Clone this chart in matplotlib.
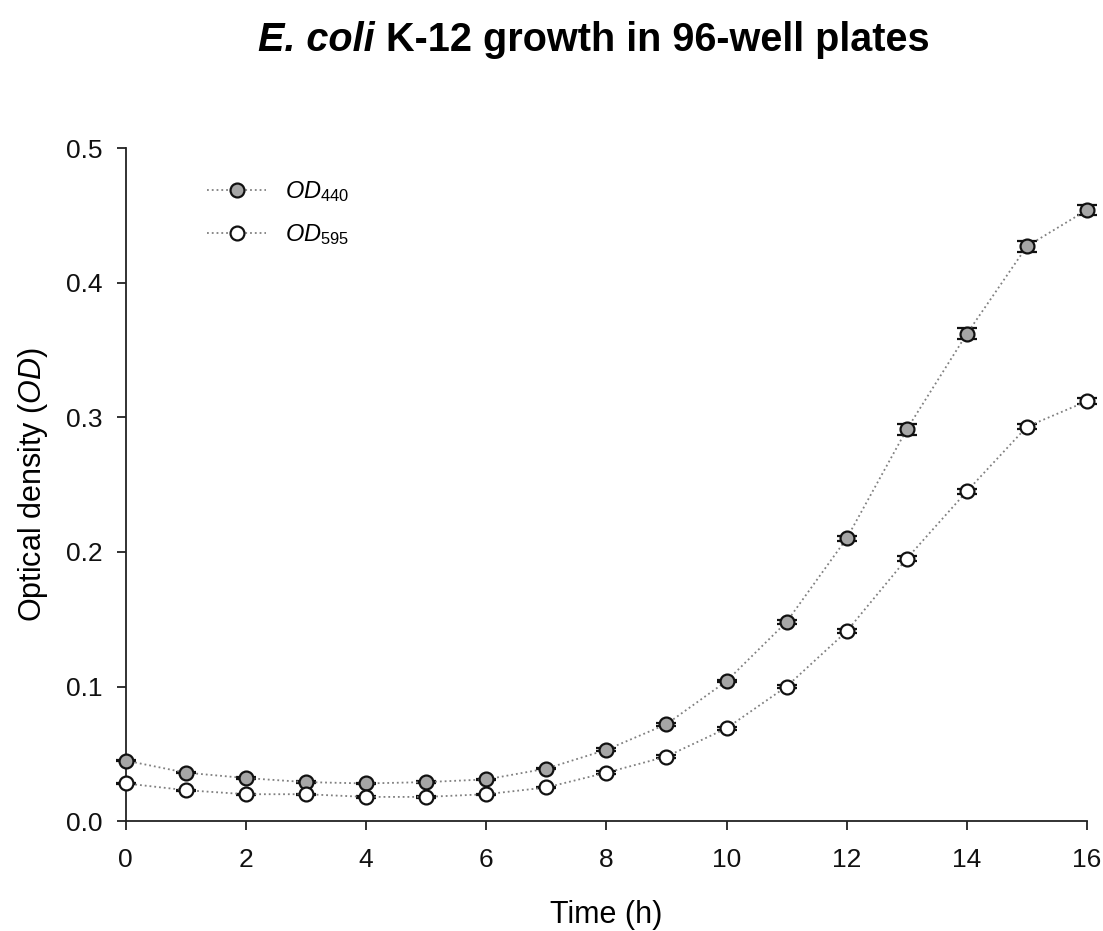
import matplotlib.pyplot as plt
from matplotlib.lines import Line2D
import numpy as np

plt.rcParams['font.family'] = ['Liberation Sans', 'DejaVu Sans']
plt.rcParams['mathtext.fontset'] = 'custom'
plt.rcParams['mathtext.rm'] = 'Liberation Sans'
plt.rcParams['mathtext.it'] = 'Liberation Sans:italic'
plt.rcParams['mathtext.bf'] = 'Liberation Sans:bold'

# Lecturas cada hora
hours = np.arange(0, 17)
od440 = [0.045, 0.036, 0.032, 0.029, 0.028, 0.029, 0.031, 0.039, 0.053,
         0.072, 0.104, 0.148, 0.210, 0.291, 0.362, 0.427, 0.454]
od595 = [0.028, 0.023, 0.020, 0.020, 0.018, 0.018, 0.020, 0.025, 0.036,
         0.048, 0.069, 0.100, 0.141, 0.195, 0.245, 0.293, 0.312]
err440 = [0.0005, 0.0005, 0.0005, 0.0005, 0.0005, 0.0005, 0.0005, 0.0005,
          0.001, 0.001, 0.001, 0.0015, 0.002, 0.004, 0.004, 0.004, 0.004]
err595 = [0.0005, 0.0005, 0.0005, 0.0005, 0.0005, 0.0005, 0.0005, 0.0005,
          0.001, 0.001, 0.001, 0.001, 0.0015, 0.002, 0.002, 0.002, 0.002]

fig = plt.figure(figsize=(11.03, 9.31), dpi=100)
ax = fig.add_axes([0.114, 0.118, 0.8715, 0.723])

linea = dict(linestyle=':', color='#808080', linewidth=1.3, marker='o',
             markersize=10, markeredgecolor='#111111', markeredgewidth=1.6)
barras = dict(fmt='none', ecolor='#111111', elinewidth=1.2, capsize=7,
              capthick=1.6, clip_on=False, zorder=2.5)

# Barras de error debajo de los marcadores
ax.errorbar(hours, od440, yerr=err440, **barras)
ax.errorbar(hours, od595, yerr=err595, **barras)
ax.plot(hours, od440, markerfacecolor='#a6a6a6', clip_on=False, zorder=3, **linea)
ax.plot(hours, od595, markerfacecolor='white', clip_on=False, zorder=3, **linea)

ax.set_xlim(0, 16)
ax.set_ylim(0, 0.5)
ax.set_xticks(range(0, 17, 2))
ax.set_yticks(np.arange(0, 0.51, 0.1))
ax.set_yticklabels(['0.0', '0.1', '0.2', '0.3', '0.4', '0.5'])
ax.tick_params(labelsize=19, length=6.5, width=1.3, direction='out',
               color='#222222', labelcolor='#111111')
ax.tick_params(axis='x', pad=13)
ax.tick_params(axis='y', pad=10)

for lado in ['top', 'right']:
    ax.spines[lado].set_visible(False)
for lado in ['left', 'bottom']:
    ax.spines[lado].set_linewidth(1.3)
    ax.spines[lado].set_color('#222222')

ax.set_xlabel('Time (h)', fontsize=22, labelpad=20)
ax.set_ylabel('Optical density ($\\mathit{OD}$)', fontsize=22, labelpad=12)

# Leyenda solo con marcador y linea punteada
handles = [Line2D([], [], markerfacecolor='#a6a6a6', **linea),
           Line2D([], [], markerfacecolor='white', **linea)]
labels = ['$\\mathit{OD}_{440}$', '$\\mathit{OD}_{595}$']
ax.legend(handles, labels, loc='upper left', bbox_to_anchor=(0.0625, 0.985),
          frameon=False, fontsize=17, handlelength=2.5, labelspacing=0.76,
          handletextpad=0.8)

# Titulo: nombre de la especie en cursiva
y_tit = 1 - 40 / 931
t1 = fig.text(0.5, y_tit, 'E. coli', fontsize=28.5, fontweight='bold',
              fontstyle='italic', ha='left', va='center')
t2 = fig.text(0.5, y_tit, ' K-12 growth in 96-well plates', fontsize=28.5,
              fontweight='bold', ha='left', va='center')
fig.canvas.draw()
r = fig.canvas.get_renderer()
w1 = t1.get_window_extent(r).width / fig.bbox.width
w2 = t2.get_window_extent(r).width / fig.bbox.width
x0 = 0.5385 - (w1 + w2) / 2
t1.set_x(x0)
t2.set_x(x0 + w1)

fig.savefig('out.png', dpi=100)
